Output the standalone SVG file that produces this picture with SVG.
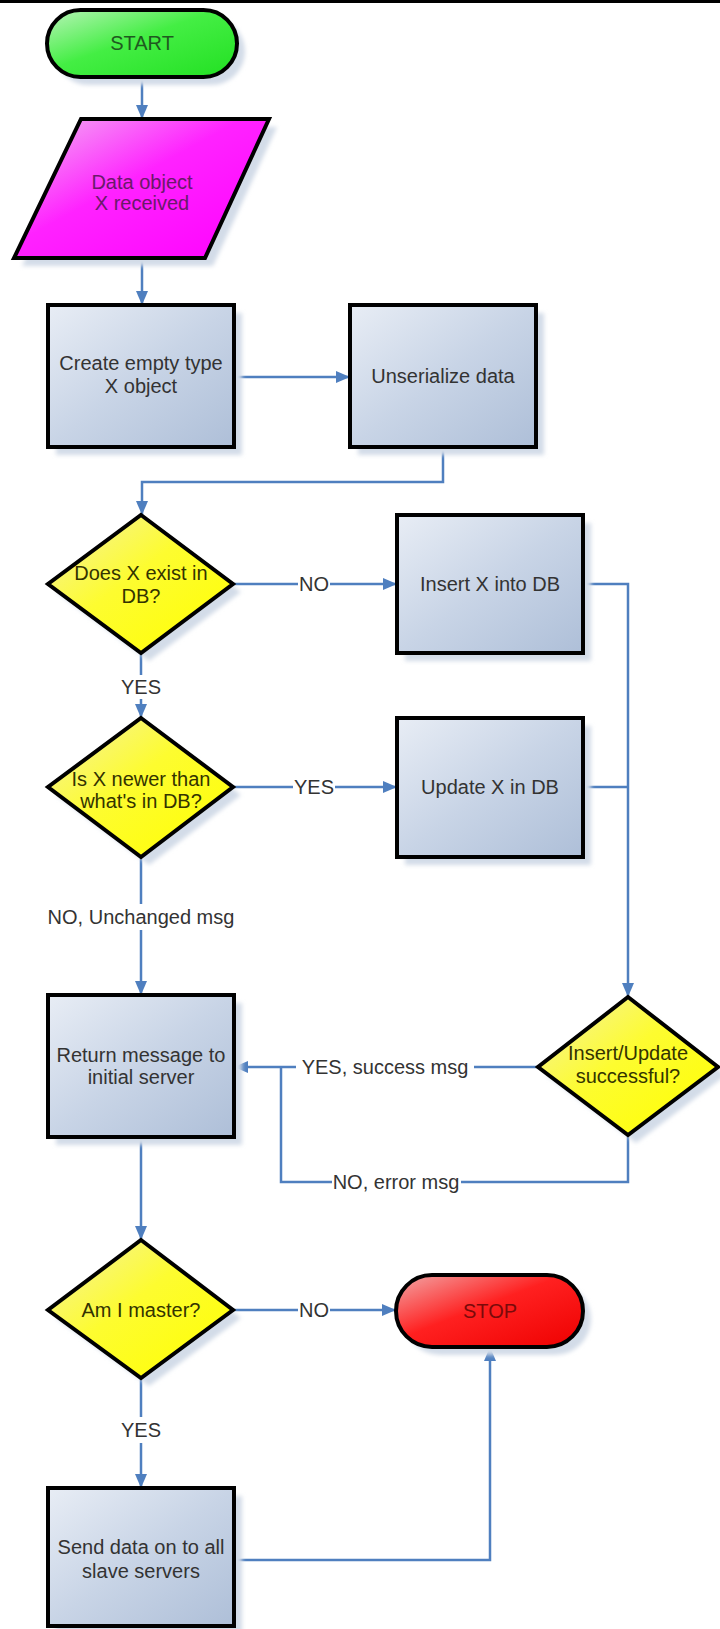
<svg xmlns="http://www.w3.org/2000/svg" width="720" height="1629" viewBox="0 0 720 1629">
<style>
.t{font-family:"Liberation Sans",Arial,sans-serif;font-size:20px;text-anchor:middle;fill:#333}
.o{stroke:#000;stroke-width:4;stroke-linejoin:miter}
.sh{fill:#d3dce8;filter:url(#blur)}
.box{fill:url(#gBox)}
.dia{fill:url(#gDia)}
.dt{fill:#333300}
.c{fill:none;stroke:#4f7fbf;stroke-width:2.5}
.ca{fill:none;stroke:#4f7fbf;stroke-width:2.5;marker-end:url(#arr)}
.lbg{fill:#fff}
</style>
<defs>
<filter id="blur" x="-10%" y="-10%" width="120%" height="120%"><feGaussianBlur stdDeviation="2"/></filter>
<linearGradient id="gBox" x1="0" y1="0" x2="1" y2="1"><stop offset="0" stop-color="#e8edf5"/><stop offset="0.5" stop-color="#c8d4e6"/><stop offset="1" stop-color="#aebfd8"/></linearGradient>
<linearGradient id="gDia" x1="0" y1="0" x2="1" y2="1"><stop offset="0" stop-color="#f4f0a8"/><stop offset="0.45" stop-color="#fdfc30"/><stop offset="1" stop-color="#ffff00"/></linearGradient>
<linearGradient id="gStart" x1="0" y1="0" x2="1" y2="1"><stop offset="0" stop-color="#b8f4b8"/><stop offset="0.45" stop-color="#44ee44"/><stop offset="1" stop-color="#22e022"/></linearGradient>
<linearGradient id="gPara" x1="0" y1="0" x2="1" y2="1"><stop offset="0" stop-color="#f2b8f2"/><stop offset="0.45" stop-color="#ff22ff"/><stop offset="1" stop-color="#ff00ff"/></linearGradient>
<linearGradient id="gStop" x1="0" y1="0" x2="1" y2="1"><stop offset="0" stop-color="#f2a8a8"/><stop offset="0.45" stop-color="#ff2020"/><stop offset="1" stop-color="#ee0000"/></linearGradient>
<marker id="arr" viewBox="0 0 14 12" refX="14" refY="6" markerWidth="14" markerHeight="12" markerUnits="userSpaceOnUse" orient="auto"><path d="M0,0 L14,6 L0,12 Z" fill="#4f7fbf"/></marker>
</defs>
<rect x="0" y="0" width="720" height="1629" fill="#fff"/>
<rect x="0" y="0" width="720" height="3" fill="#000"/>

<g id="connectors">
<path class="ca" d="M142,77 V119"/>
<path class="ca" d="M142,258 V305"/>
<path class="ca" d="M234,377 H350"/>
<path class="ca" d="M443,447 V482 H142 V515"/>
<path class="ca" d="M233,584 H397"/>
<path class="ca" d="M141,653 V718"/>
<path class="ca" d="M233,787 H397"/>
<path class="ca" d="M141,857 V995"/>
<path class="ca" d="M583,584 H628 V997"/>
<path class="c" d="M583,787 H628"/>
<path class="ca" d="M538,1067 H234"/>
<path class="c" d="M628,1135 V1182 H281 V1067"/>
<path class="ca" d="M141,1137 V1240"/>
<path class="ca" d="M233,1310 H396"/>
<path class="ca" d="M141,1378 V1488"/>
<path class="ca" d="M234,1560 H490 V1347"/>
<g id="labels">
<rect class="lbg" x="298" y="573" width="32" height="22"/>
<text class="t" x="314" y="591">NO</text>
<rect class="lbg" x="120" y="675" width="42" height="24"/>
<text class="t" x="141" y="694">YES</text>
<rect class="lbg" x="293" y="776" width="42" height="22"/>
<text class="t" x="314" y="794">YES</text>
<rect class="lbg" x="46" y="904" width="190" height="26"/>
<text class="t" x="141" y="924">NO, Unchanged msg</text>
<rect class="lbg" x="296" y="1056" width="178" height="22"/>
<text class="t" x="385" y="1074">YES, success msg</text>
<rect class="lbg" x="332" y="1171" width="129" height="22"/>
<text class="t" x="396" y="1189">NO, error msg</text>
<rect class="lbg" x="298" y="1299" width="32" height="22"/>
<text class="t" x="314" y="1317">NO</text>
<rect class="lbg" x="120" y="1417" width="42" height="26"/>
<text class="t" x="141" y="1437">YES</text>
</g>
</g>

<g id="start">
<rect class="sh" x="55" y="18" width="190" height="67" rx="33.5"/>
<rect class="o" x="47" y="10" width="190" height="67" rx="33.5" fill="url(#gStart)"/>
<text class="t" x="142" y="50" style="fill:#1f5a1f">START</text>
</g>

<g id="received">
<polygon class="sh" points="89,127 277,127 213,266 22,266"/>
<polygon class="o" points="81,119 269,119 205,258 14,258" fill="url(#gPara)"/>
<text class="t" style="fill:#6a1a6a"><tspan x="142" y="189">Data object</tspan><tspan x="142" y="210">X received</tspan></text>
</g>

<g id="create">
<rect class="sh" x="56" y="313" width="186" height="142"/>
<rect class="o box" x="48" y="305" width="186" height="142"/>
<text class="t"><tspan x="141" y="370">Create empty type</tspan><tspan x="141" y="393">X object</tspan></text>
</g>

<g id="unserialize">
<rect class="sh" x="358" y="313" width="186" height="142"/>
<rect class="o box" x="350" y="305" width="186" height="142"/>
<text class="t" x="443" y="383">Unserialize data</text>
</g>

<g id="exists">
<polygon class="sh" points="149,523 241,592 149,661 56,592"/>
<polygon class="dia" points="141,515 233,584 141,653 48,584"/>
<text class="t dt"><tspan x="141" y="580">Does X exist in</tspan><tspan x="141" y="603">DB?</tspan></text>
<polygon class="o" fill="none" points="141,515 233,584 141,653 48,584"/>
</g>

<g id="insert">
<rect class="sh" x="405" y="523" width="186" height="138"/>
<rect class="o box" x="397" y="515" width="186" height="138"/>
<text class="t" x="490" y="591">Insert X into DB</text>
</g>

<g id="newer">
<polygon class="sh" points="149,726 241,795 149,865 56,795"/>
<polygon class="dia" points="141,718 233,787 141,857 48,787"/>
<text class="t dt"><tspan x="141" y="786">Is X newer than</tspan><tspan x="141" y="808">what's in DB?</tspan></text>
<polygon class="o" fill="none" points="141,718 233,787 141,857 48,787"/>
</g>

<g id="update">
<rect class="sh" x="405" y="726" width="186" height="139"/>
<rect class="o box" x="397" y="718" width="186" height="139"/>
<text class="t" x="490" y="794">Update X in DB</text>
</g>

<g id="success">
<polygon class="sh" points="636,1005 726,1075 636,1143 546,1075"/>
<polygon class="dia" points="628,997 718,1067 628,1135 538,1067"/>
<text class="t dt"><tspan x="628" y="1060">Insert/Update</tspan><tspan x="628" y="1083">successful?</tspan></text>
<polygon class="o" fill="none" points="628,997 718,1067 628,1135 538,1067"/>
</g>

<g id="return">
<rect class="sh" x="56" y="1003" width="186" height="142"/>
<rect class="o box" x="48" y="995" width="186" height="142"/>
<text class="t"><tspan x="141" y="1062">Return message to</tspan><tspan x="141" y="1084">initial server</tspan></text>
</g>

<g id="master">
<polygon class="sh" points="149,1248 241,1318 149,1386 56,1318"/>
<polygon class="dia" points="141,1240 233,1310 141,1378 48,1310"/>
<text class="t dt" x="141" y="1317">Am I master?</text>
<polygon class="o" fill="none" points="141,1240 233,1310 141,1378 48,1310"/>
</g>

<g id="stop">
<rect class="sh" x="404" y="1283" width="187" height="72" rx="36"/>
<rect class="o" x="396" y="1275" width="187" height="72" rx="36" fill="url(#gStop)"/>
<text class="t" x="490" y="1318" style="fill:#7a0a0a">STOP</text>
</g>

<g id="send">
<rect class="sh" x="56" y="1496" width="186" height="138"/>
<rect class="o box" x="48" y="1488" width="186" height="138"/>
<text class="t"><tspan x="141" y="1554">Send data on to all</tspan><tspan x="141" y="1578">slave servers</tspan></text>
</g>
</svg>
